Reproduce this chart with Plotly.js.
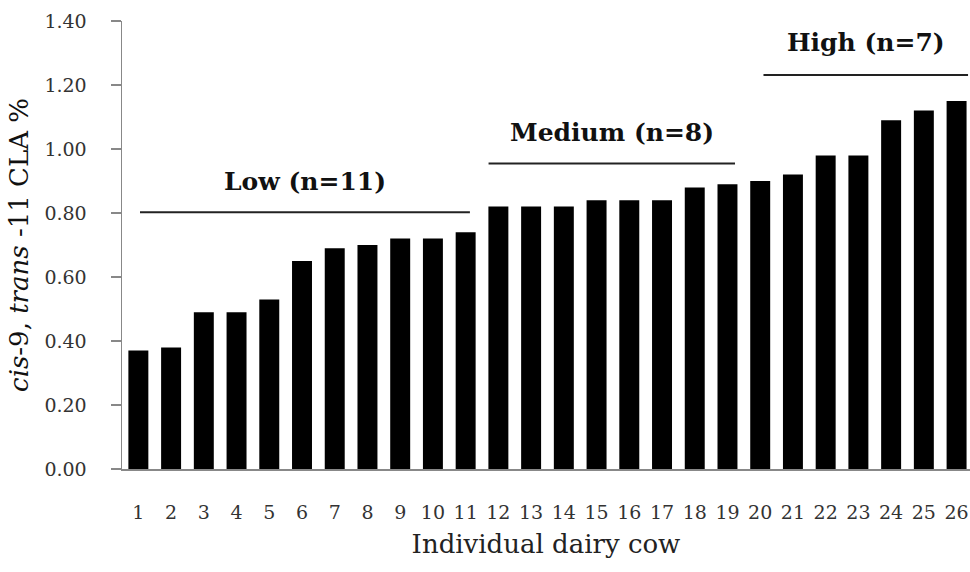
<!DOCTYPE html>
<html>
<head>
<meta charset="utf-8">
<script src="https://cdn.plot.ly/plotly-3.0.1.min.js"></script>
<style>html,body{margin:0;padding:0;background:#fff;}#chart{width:970px;height:572px;}</style>
</head>
<body>
<div id="chart"></div>
<script>
const cows = [1,2,3,4,5,6,7,8,9,10,11,12,13,14,15,16,17,18,19,20,21,22,23,24,25,26];
const claValues = [0.37,0.38,0.49,0.49,0.53,0.65,0.69,0.70,0.72,0.72,0.74,0.82,0.82,0.82,0.84,0.84,0.84,0.88,0.89,0.90,0.92,0.98,0.98,1.09,1.12,1.15];
const yTickVals = [0,0.2,0.4,0.6,0.8,1.0,1.2,1.4];
const groupLabels = ['Low (n=11)','Medium (n=8)','High (n=7)'];
const groupStart = [1.05, 11.7, 20.1];
const groupEnd = [11.13, 19.23, 26.35];
const groupLineY = [0.802, 0.955, 1.231];
const groupLabelY = [0.897, 1.053, 1.334];

const serif = 'DejaVu Serif, Liberation Serif, serif';

const trace = {
  type: 'bar',
  x: cows,
  y: claValues,
  marker: {color: '#000000', line: {width: 0}},
  width: 0.61,
  hoverinfo: 'x+y'
};

const shapes = groupLabels.map((g, i) => ({
  type: 'line', xref: 'x', yref: 'y',
  x0: groupStart[i], x1: groupEnd[i], y0: groupLineY[i], y1: groupLineY[i],
  line: {color: '#222', width: 2}
}));

const annotations = groupLabels.map((g, i) => ({
  xref: 'x', yref: 'y',
  x: (groupStart[i] + groupEnd[i]) / 2, y: groupLabelY[i],
  text: '<b>' + g + '</b>', showarrow: false,
  font: {family: serif, size: 25, color: '#111'}
}));

const layout = {
  width: 970, height: 572,
  margin: {l: 122, r: 0, t: 21, b: 103},
  paper_bgcolor: '#fff', plot_bgcolor: '#fff',
  showlegend: false,
  xaxis: {
    range: [0.5, 26.41],
    tickvals: cows, ticktext: cows.map(String),
    ticks: '', showgrid: false, zeroline: false,
    showline: true, linecolor: '#888', linewidth: 1.5,
    tickfont: {family: serif, size: 19, color: '#333'},
    ticklabelstandoff: 26,
    title: {text: 'Individual dairy cow', font: {family: serif, size: 26, color: '#222'}, standoff: 12}
  },
  yaxis: {
    range: [0, 1.4],
    tickvals: yTickVals, tickformat: '.2f',
    ticks: 'outside', ticklen: 10, tickcolor: '#888', tickwidth: 1.5,
    showgrid: false, zeroline: false,
    showline: true, linecolor: '#888', linewidth: 1.5,
    tickfont: {family: serif, size: 19, color: '#333'},
    ticklabelstandoff: 20,
    title: {text: '<i>cis</i>-9, <i>trans</i> -11 CLA %', font: {family: serif, size: 26, color: '#111'}, standoff: 8}
  },
  shapes: shapes,
  annotations: annotations
};

Plotly.newPlot('chart', [trace], layout, {displayModeBar: false, staticPlot: true});
</script>
</body>
</html>
